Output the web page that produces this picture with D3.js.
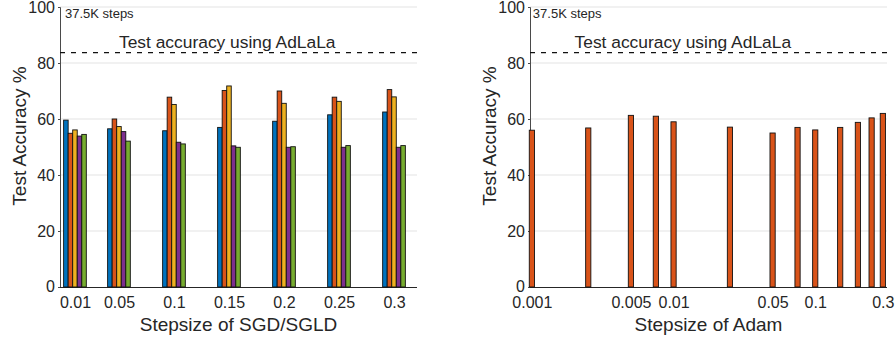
<!DOCTYPE html>
<html>
<head>
<meta charset="utf-8">
<script src="https://cdn.jsdelivr.net/npm/d3@7"></script>
<style>
  html, body { margin: 0; padding: 0; background: #fff; }
  svg { display: block; font-family: "Liberation Sans", Arial, Helvetica, sans-serif; }
  text { fill: #262626; }
</style>
</head>
<body>
<svg id="chart" width="896" height="339"></svg>
<script>
// Step sizes tried for SGD/SGLD and the five methods compared at each one
const sgdSteps = [0.01, 0.05, 0.1, 0.15, 0.2, 0.25, 0.3];
const sgdSeriesNames = ["s1", "s2", "s3", "s4", "s5"];
const sgdSeries1 = [59.6, 56.5, 55.8, 57.0, 59.2, 61.5, 62.5];
const sgdSeries2 = [54.9, 60.0, 67.8, 70.2, 70.0, 67.8, 70.5];
const sgdSeries3 = [56.1, 57.3, 65.2, 71.8, 65.6, 66.3, 67.9];
const sgdSeries4 = [53.9, 55.5, 51.7, 50.4, 49.9, 49.9, 49.9];
const sgdSeries5 = [54.5, 52.1, 51.1, 49.9, 50.1, 50.5, 50.5];
const seriesColors = ["#0072BD", "#D95319", "#EDB120", "#7E2F8E", "#77AC30"];

// Adam step sizes (log axis) and the accuracy reached with each
const adamSteps = [0.001, 0.0025, 0.005, 0.0075, 0.01, 0.025, 0.05, 0.075, 0.1, 0.15, 0.2, 0.25, 0.3];
const adamAcc   = [56.0, 56.8, 61.3, 61.0, 59.0, 57.1, 55.0, 57.0, 56.1, 57.0, 58.8, 60.4, 62.0];

const yTicks = [0, 20, 40, 60, 80, 100];
const sgdTickLabels = ["0.01", "0.05", "0.1", "0.15", "0.2", "0.25", "0.3"];
const adamTicks = [0.001, 0.005, 0.01, 0.05, 0.1, 0.3];
const adamTickLabels = ["0.001", "0.005", "0.01", "0.05", "0.1", "0.3"];

const adlalaAcc = 83.7;
const stepsNote = "37.5K steps";
const refLabel = "Test accuracy using AdLaLa";
const yTitle = "Test Accuracy %";

const svg = d3.select("#chart");
const plotTop = 7, plotBottom = 287;

function panel(g, x, xTicks, xLabels, xTitle, noteX, refX) {
  const [x0, x1] = x.range();
  const y = d3.scaleLinear().domain([0, 100]).range([plotBottom, plotTop]);

  // horizontal grid
  g.append("g").selectAll("line").data(yTicks.filter(d => d > 0)).join("line")
    .attr("x1", x0).attr("x2", x1)
    .attr("y1", d => y(d)).attr("y2", d => y(d))
    .attr("stroke", "#e3e3e3").attr("stroke-width", 1.2);

  // y axis
  const ya = g.append("g").attr("transform", `translate(${x0},0)`)
    .call(d3.axisLeft(y).tickValues(yTicks).tickSize(2).tickPadding(3));
  ya.select(".domain").attr("stroke", "#4a4a4a");
  ya.selectAll(".tick line").attr("stroke", "#4a4a4a");
  ya.selectAll(".tick text").attr("font-size", 16).attr("fill", "#262626")
    .attr("font-family", "Liberation Sans, Arial, sans-serif")
    .attr("dy", d => d === 0 ? "0.28em" : "0.32em");

  // x axis
  const xa = g.append("g").attr("transform", `translate(0,${plotBottom})`)
    .call(d3.axisBottom(x).tickValues(xTicks).tickFormat((d, i) => xLabels[i]).tickSize(0).tickPadding(10));
  xa.select(".domain").attr("stroke", "#262626").attr("d", `M${x0},0.5H${x1}`);
  xa.selectAll(".tick text").attr("font-size", 16).attr("fill", "#262626")
    .attr("font-family", "Liberation Sans, Arial, sans-serif")
    .attr("dy", "0.66em");

  g.append("text").attr("x", (x0 + x1) / 2).attr("y", 331)
    .attr("text-anchor", "middle").attr("font-size", 19).text(xTitle);

  g.append("text").attr("transform", `translate(${x0 - 34},136) rotate(-90)`)
    .attr("text-anchor", "middle").attr("font-size", 19).text(yTitle);

  // AdLaLa reference level
  g.append("line").attr("x1", x0).attr("x2", x1)
    .attr("y1", y(adlalaAcc)).attr("y2", y(adlalaAcc))
    .attr("stroke", "#111").attr("stroke-width", 1.3).attr("stroke-dasharray", "5,6");

  g.append("text").attr("x", x(refX)).attr("y", y(85.4))
    .attr("font-size", 17.4).text(refLabel);
  g.append("text").attr("x", x(noteX) + 1).attr("y", y(96.2))
    .attr("font-size", 13).text(stepsNote);

  return y;
}

// Left: grouped bars for SGD/SGLD step sizes
const xL = d3.scaleLinear().domain([-0.0036, 0.3209]).range([60, 417]);
const gL = svg.append("g");
const yL = panel(gL, xL, sgdSteps, sgdTickLabels, "Stepsize of SGD/SGLD", 0, 0.05);

const sgdValues = [sgdSeries1, sgdSeries2, sgdSeries3, sgdSeries4, sgdSeries5];
const groupWidth = 22.7;
const inner = d3.scaleBand().domain(sgdSeriesNames).range([-groupWidth / 2, groupWidth / 2]).padding(0);
const sgdRows = sgdSteps.flatMap((s, i) => sgdSeriesNames.map((n, k) => ({ step: s, name: n, k, v: sgdValues[k][i] })));
gL.append("g").selectAll("rect").data(sgdRows).join("rect")
  .attr("x", d => xL(d.step) + inner(d.name))
  .attr("width", inner.bandwidth())
  .attr("y", d => yL(d.v))
  .attr("height", d => yL(0) - yL(d.v))
  .attr("fill", d => seriesColors[d.k])
  .attr("stroke", "#111").attr("stroke-width", 0.9);

// Right: Adam step sizes on a log axis
const xR = d3.scaleLog().domain([0.00097, 0.321]).range([530, 887]);
const gR = svg.append("g");
const yR = panel(gR, xR, adamTicks, adamTickLabels, "Stepsize of Adam", 0.001, 0.002);

const barW = 5.2;
gR.append("g").selectAll("rect").data(adamSteps.map((s, i) => ({ s, v: adamAcc[i] }))).join("rect")
  .attr("x", d => xR(d.s) - barW / 2)
  .attr("width", barW)
  .attr("y", d => yR(d.v))
  .attr("height", d => yR(0) - yR(d.v))
  .attr("fill", seriesColors[1])
  .attr("stroke", "#111").attr("stroke-width", 0.9);
</script>
</body>
</html>
